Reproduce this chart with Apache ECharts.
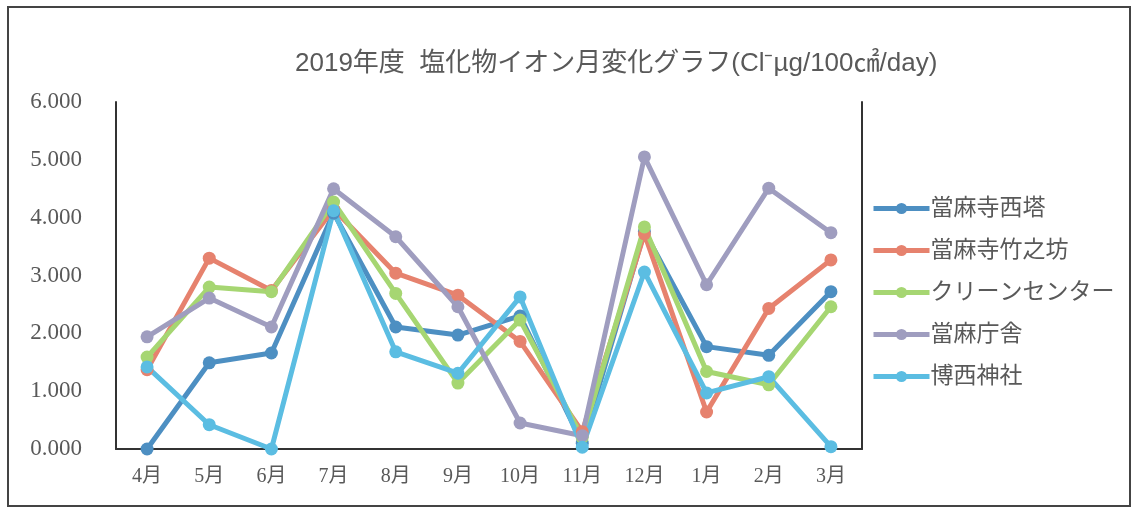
<!DOCTYPE html>
<html>
<head>
<meta charset="utf-8">
<script src="https://cdn.jsdelivr.net/npm/echarts@6/dist/echarts.min.js"></script>
<style>
  html, body { margin: 0; padding: 0; background: #fff; }
  #chart { width: 1134px; height: 508px; }
</style>
</head>
<body>
<div id="chart"></div>
<script>
// Monthly chloride ion deposition, FY2019 (Cl⁻ µg/100cm²/day)
const months = ['4月', '5月', '6月', '7月', '8月', '9月', '10月', '11月', '12月', '1月', '2月', '3月'];

const seriesNames = ['當麻寺西塔', '當麻寺竹之坊', 'クリーンセンター', '當麻庁舎', '博西神社'];

const saitou     = [0.00, 1.49, 1.66, 4.08, 2.11, 1.97, 2.30, 0.10, 3.76, 1.77, 1.62, 2.72];
const takenobou  = [1.37, 3.30, 2.74, 4.15, 3.04, 2.66, 1.86, 0.30, 3.72, 0.64, 2.43, 3.27];
const cleanCtr   = [1.59, 2.80, 2.72, 4.27, 2.69, 1.14, 2.23, 0.20, 3.84, 1.34, 1.11, 2.46];
const choushya   = [1.94, 2.61, 2.11, 4.50, 3.67, 2.46, 0.45, 0.23, 5.05, 2.84, 4.51, 3.74];
const hakusai    = [1.42, 0.42, 0.00, 4.12, 1.68, 1.31, 2.63, 0.03, 3.06, 0.97, 1.25, 0.04];

const seriesValues = [saitou, takenobou, cleanCtr, choushya, hakusai];
const seriesColors = ['#4d8fc2', '#e6826e', '#a6d672', '#9f9dbf', '#5bbde2'];

const yTicks = { min: 0, max: 6, interval: 1 };

const frameColor = '#333';
const textColor = '#595959';
const serifFont = '"Liberation Serif", "DejaVu Serif", "Noto Sans CJK JP", serif';
const sansFont = '"Liberation Sans", Arial, "Noto Sans CJK JP", sans-serif';

const chart = echarts.init(document.getElementById('chart'), null, { renderer: 'canvas' });

chart.setOption({
  animation: false,
  backgroundColor: '#fff',
  title: {
    text: '2019年度  塩化物イオン月変化グラフ(Cl⁻µg/100㎠/day)',
    left: 290,
    top: 46,
    textStyle: { fontFamily: sansFont, fontSize: 26, fontWeight: 'normal', color: textColor }
  },
  graphic: [{
    type: 'rect',
    shape: { x: 8, y: 7, width: 1122, height: 499 },
    style: { fill: 'none', stroke: '#444', lineWidth: 2 },
    silent: true
  }],
  legend: {
    orient: 'vertical',
    left: 866,
    top: 192,
    itemWidth: 56,
    itemHeight: 14,
    itemGap: 19,
    data: seriesNames,
    lineStyle: { width: 5 },
    textStyle: { fontFamily: serifFont, fontSize: 23, color: textColor, padding: [0, 0, 0, -4] }
  },
  grid: { left: 116, right: 272, top: 102, bottom: 59, containLabel: false },
  xAxis: [{
    type: 'category',
    data: months,
    boundaryGap: true,
    axisLine: { show: false },
    axisTick: { show: false },
    axisLabel: { margin: 18, fontFamily: serifFont, fontSize: 20, color: textColor }
  }, {
    type: 'category',
    data: months,
    position: 'top',
    axisLine: { show: true, lineStyle: { color: frameColor, width: 2 } },
    axisTick: { show: false },
    axisLabel: { show: false }
  }],
  yAxis: [{
    type: 'value',
    min: yTicks.min,
    max: yTicks.max,
    interval: yTicks.interval,
    axisLine: { show: true, lineStyle: { color: frameColor, width: 2 } },
    axisTick: { show: false },
    splitLine: { show: false },
    axisLabel: {
      margin: 34,
      fontFamily: serifFont,
      fontSize: 23,
      color: textColor,
      formatter: v => v.toFixed(3)
    }
  }, {
    type: 'value',
    min: yTicks.min,
    max: yTicks.max,
    interval: yTicks.interval,
    position: 'right',
    axisLine: { show: true, lineStyle: { color: frameColor, width: 2 } },
    axisTick: { show: false },
    splitLine: { show: false },
    axisLabel: { show: false }
  }],
  series: seriesNames.map((name, i) => ({
    name: name,
    type: 'line',
    data: seriesValues[i],
    symbol: 'circle',
    symbolSize: 13,
    lineStyle: { width: 5, color: seriesColors[i] },
    itemStyle: { color: seriesColors[i] },
    emphasis: { disabled: true }
  }))
});
</script>
</body>
</html>
